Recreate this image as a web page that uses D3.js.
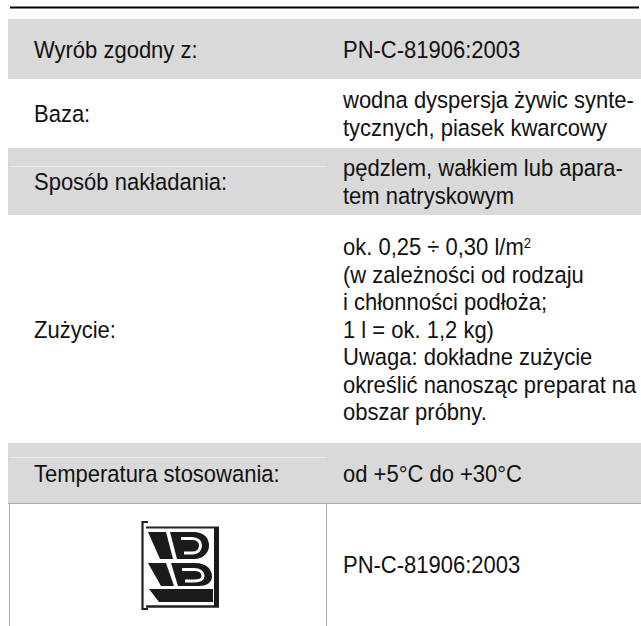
<!DOCTYPE html>
<html>
<head>
<meta charset="utf-8">
<script src="https://cdn.jsdelivr.net/npm/d3@7"></script>
<style>
  html, body { margin: 0; padding: 0; background: #fff; }
  svg { display: block; }
  text { font-family: "Liberation Sans", Arial, sans-serif; font-size: 23.5px; fill: #111; }
</style>
</head>
<body>
<script>
// table content
const labels = ["Wyrób zgodny z:", "Baza:", "Sposób nakładania:", "Zużycie:", "Temperatura stosowania:", ""];
const values = [
  ["PN-C-81906:2003"],
  ["wodna dyspersja żywic synte-", "tycznych, piasek kwarcowy"],
  ["pędzlem, wałkiem lub apara-", "tem natryskowym"],
  ["ok. 0,25 ÷ 0,30 l/m^2", "(w zależności od rodzaju", "i chłonności podłoża;", "1 l = ok. 1,2 kg)",
   "Uwaga: dokładne zużycie", "określić nanosząc preparat na", "obszar próbny."],
  ["od +5°C do +30°C"],
  ["PN-C-81906:2003"]
];
const shaded = [true, false, true, false, true, false];

// layout
const width = 641, height = 626;
const rowHeights = [60, 69, 67, 228, 60, 123];
const tableTop = 19, tableLeft = 8, colSplit = 326;
const labelX = 34, valueX = 343, lineH = 27.5;
const squeeze = 0.936; // glyphs in the source are a bit narrower than Liberation Sans

const svg = d3.select("body").append("svg").attr("width", width).attr("height", height);

const rowY = d3.cumsum([tableTop, ...rowHeights]);
const rows = labels.map((l, i) => ({ label: l, lines: values[i], shaded: shaded[i], y0: rowY[i], y1: rowY[i + 1] }));

const place = (x, y) => `translate(${x},${y}) scale(${squeeze},1)`;

// top rule
svg.append("line").attr("x1", 10).attr("x2", 639).attr("y1", 7.5).attr("y2", 7.5)
  .attr("stroke", "#000").attr("stroke-width", 2.2);

const row = svg.selectAll(".row").data(rows).enter().append("g").attr("class", "row");

row.filter(d => d.shaded).append("rect")
  .attr("x", tableLeft).attr("y", d => d.y0).attr("width", width - tableLeft).attr("height", d => d.y1 - d.y0)
  .attr("fill", "#d9d9d9");

// faint inner edges seen in two of the shaded rows
[166, 457].forEach(y => {
  svg.append("line").attr("x1", 10).attr("x2", colSplit).attr("y1", y + 0.5).attr("y2", y + 0.5)
    .attr("stroke", "#e9e9e9").attr("stroke-width", 1);
});

row.append("text")
  .attr("transform", d => place(labelX, (d.y0 + d.y1) / 2 + 8.5))
  .text(d => d.label);

row.each(function(d) {
  const g = d3.select(this);
  const mid = (d.y0 + d.y1) / 2;
  const first = mid - (d.lines.length - 1) * lineH / 2;
  d.lines.forEach((ln, j) => {
    const t = g.append("text").attr("transform", place(valueX, first + j * lineH + 8.5));
    const parts = ln.split("^");
    t.append("tspan").text(parts[0]);
    if (parts[1]) t.append("tspan").attr("dy", -7).style("font-size", "14px").text(parts[1]);
  });
});

// bottom row borders
const last = rows[rows.length - 1];
svg.append("line").attr("x1", tableLeft).attr("x2", width).attr("y1", last.y0 + 0.5).attr("y2", last.y0 + 0.5)
  .attr("stroke", "#aaa");
svg.append("line").attr("x1", tableLeft + 1.5).attr("x2", tableLeft + 1.5).attr("y1", last.y0).attr("y2", height)
  .attr("stroke", "#aaa");
svg.append("line").attr("x1", colSplit + 0.5).attr("x2", colSplit + 0.5).attr("y1", last.y0).attr("y2", height)
  .attr("stroke", "#aaa");

// certification mark
const ink = "#1a1a1a";
const logo = svg.append("g").attr("transform", "translate(141,520)");
logo.append("path").attr("d", "M7,2 H1.5 V89 H7").attr("fill", "none").attr("stroke", "#222").attr("stroke-width", 2.2);
logo.append("path").attr("d", "M5,7.5 H78").attr("stroke", "#222").attr("stroke-width", 2);
logo.append("rect").attr("x", 73).attr("y", 7).attr("width", 5).attr("height", 80).attr("fill", ink);
logo.append("path").attr("d", "M5,86.5 H78").attr("stroke", "#222").attr("stroke-width", 2.5);
// upper V arm and bowl
logo.append("path").attr("d", "M7,12 L25,12 L32,39 L19,39 Z").attr("fill", ink);
logo.append("path").attr("d", "M29,12 H52 C64,12 68,19 68,25.5 C68,33 62,39 53,39 H36 Z").attr("fill", ink);
logo.append("path").attr("d", "M40,18.5 H51 C57,18.5 59.5,22 59.5,25.5 C59.5,29.5 57,33 51,33 H43")
  .attr("fill", "none").attr("stroke", "#fff").attr("stroke-width", 3);
// lower V arm and bowl
logo.append("path").attr("d", "M7,43 L25,43 L33,66 L20,66 Z").attr("fill", ink);
logo.append("path").attr("d", "M30,43 H54 C66,43 71,50 71,56.5 C71,63 65,66 58,66 H37 Z").attr("fill", ink);
logo.append("path").attr("d", "M41,49.5 H53 C59,49.5 62,52.5 62,56 C62,59 59,61 53,61 H44")
  .attr("fill", "none").attr("stroke", "#fff").attr("stroke-width", 3);
// base
logo.append("path").attr("d", "M8,69 H72 V82 H18 Z").attr("fill", ink);
</script>
</body>
</html>
